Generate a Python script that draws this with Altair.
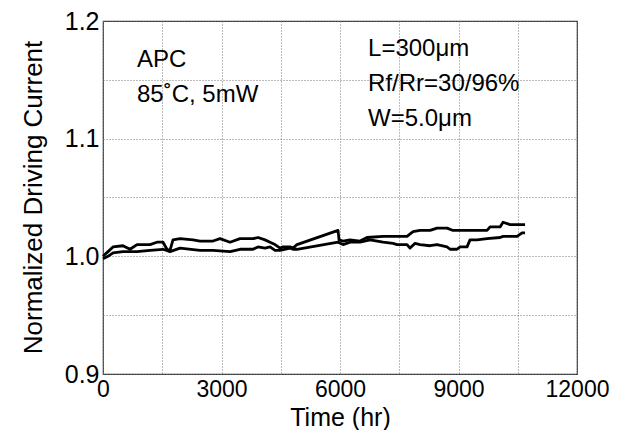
import altair as alt
import pandas as pd

# Series A (upper at the end)
a_t = [0, 127, 253, 506, 684, 861, 1190, 1367, 1519, 1620, 1696, 1772, 1950, 2279, 2456,
       2785, 2962, 3216, 3469, 3798, 3925, 4102, 4228, 4355, 4482, 4558, 4735, 4811, 4912,
       5950, 5976, 6077, 6254, 6507, 6684, 7090, 7343, 7697, 7849, 8026, 8280, 8457, 8710,
       8862, 9216, 9723, 9799, 10052, 10128, 10305, 10685]
a_v = [1.000, 1.004, 1.008, 1.009, 1.006, 1.010, 1.010, 1.012, 1.012, 1.006, 1.005, 1.014,
       1.015, 1.014, 1.013, 1.013, 1.015, 1.012, 1.015, 1.015, 1.016, 1.014, 1.012, 1.010,
       1.007, 1.008, 1.008, 1.007, 1.010, 1.022, 1.014, 1.013, 1.014, 1.013, 1.016, 1.017,
       1.017, 1.017, 1.021, 1.022, 1.022, 1.024, 1.024, 1.022, 1.022, 1.022, 1.025, 1.025,
       1.029, 1.027, 1.027]

# Series B (lower at the end)
b_t = [0, 127, 253, 506, 861, 1190, 1519, 1696, 1950, 2456, 2785, 3216, 3469, 3798, 3925,
       4102, 4228, 4355, 4482, 4735, 4811, 4912, 5950, 6077, 6254, 6507, 6760, 7090, 7343,
       7444, 7697, 7773, 7900, 8026, 8280, 8457, 8710, 8786, 8963, 9039, 9216, 9292, 9470,
       9723, 10052, 10128, 10483, 10609, 10685]
b_v = [0.998, 1.000, 1.003, 1.004, 1.004, 1.005, 1.006, 1.004, 1.007, 1.005, 1.005, 1.004,
       1.006, 1.006, 1.008, 1.007, 1.008, 1.005, 1.005, 1.007, 1.006, 1.006, 1.012, 1.010,
       1.012, 1.012, 1.014, 1.012, 1.011, 1.010, 1.010, 1.007, 1.011, 1.010, 1.009, 1.010,
       1.008, 1.006, 1.006, 1.008, 1.008, 1.014, 1.014, 1.015, 1.016, 1.017, 1.017, 1.020,
       1.020]

notes = ["APC", "85˚C, 5mW", "L=300μm", "Rf/Rr=30/96%", "W=5.0μm"]
note_t = [861, 861, 6710, 6710, 6710]
note_v = [1.161, 1.131, 1.170, 1.1405, 1.1108]

x_grid = [0, 1500, 3000, 4500, 6000, 7500, 9000, 10500, 12000]
y_grid = [0.9, 0.95, 1.0, 1.05, 1.1, 1.15, 1.2]

rows = [{"t": t, "v": v, "s": "A", "o": i} for i, (t, v) in enumerate(zip(a_t, a_v))]
rows += [{"t": t, "v": v, "s": "B", "o": i} for i, (t, v) in enumerate(zip(b_t, b_v))]
df = pd.DataFrame(rows)
ndf = pd.DataFrame({"label": notes, "t": note_t, "v": note_v})

FONT = "Liberation Sans"

xscale = alt.Scale(domain=[0, 12000], nice=False)
yscale = alt.Scale(domain=[0.9, 1.2], nice=False, zero=False)

lines = alt.Chart(df).mark_line(color="black", strokeWidth=2.8, strokeJoin="round").encode(
    x=alt.X("t:Q", scale=xscale, title="Time (hr)",
            axis=alt.Axis(values=x_grid, labelExpr="datum.value % 3000 == 0 ? datum.label : ''",
                          format="d", grid=True, ticks=False, domain=False,
                          labelPadding=4, labelFlush=False, labelFontSize=23,
                          titleFontSize=25,
                          titleX=237, titleY=51, titleBaseline="alphabetic", titleAlign="center")),
    y=alt.Y("v:Q", scale=yscale, title="Normalized Driving Current",
            axis=alt.Axis(values=y_grid,
                          labelExpr="round(datum.value * 100) % 10 == 0 ? format(datum.value, '.1f') : ''",
                          grid=True, ticks=False, domain=False,
                          labelPadding=4, labelFlush=False, labelFontSize=25,
                          titleFontSize=26,
                          titleX=-70, titleY=176, titleAngle=-90,
                          titleBaseline="middle", titleAlign="center")),
    detail="s:N",
    order="o:Q",
)

texts = alt.Chart(ndf).mark_text(align="left", baseline="alphabetic", fontSize=24,
                                 font=FONT, color="black").encode(
    x=alt.X("t:Q", scale=xscale),
    y=alt.Y("v:Q", scale=yscale),
    text="label:N",
)

chart = (lines + texts).properties(
    width=474, height=353,
    background="white",
    autosize=alt.AutoSizeParams(type="none"),
    padding={"left": 95, "top": 13, "right": 32, "bottom": 56},
).configure_view(
    stroke="#333333", strokeWidth=1.2
).configure_axis(
    labelFont=FONT, titleFont=FONT,
    labelColor="black", titleColor="black", titleFontWeight="normal",
    gridColor="#777777", gridDash=[1, 2], gridWidth=1, gridOpacity=1,
)

chart.save("out.html", embed_options={"renderer": "svg", "actions": False})
